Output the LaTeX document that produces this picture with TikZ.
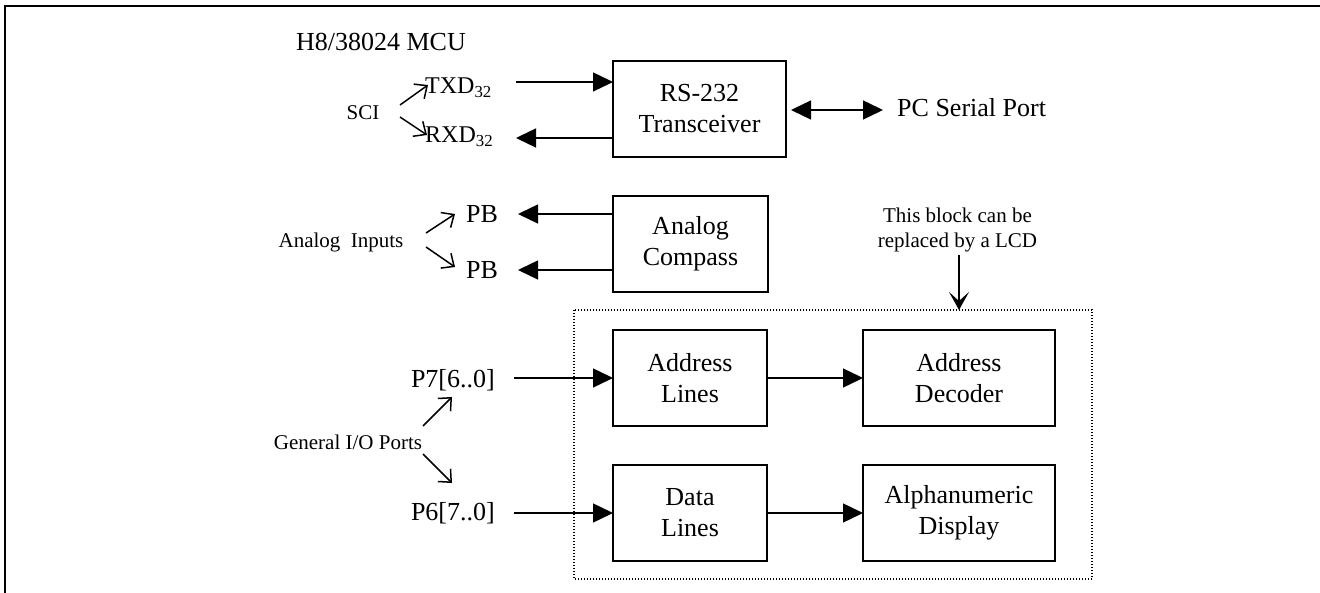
\documentclass[tikz,border=0pt]{standalone}
\usepackage{fontspec}
\setmainfont{Liberation Serif}
\usetikzlibrary{arrows.meta}
\newcommand\fbig{\fontsize{26}{31}\selectfont}
\newcommand\fmid{\fontsize{24}{28}\selectfont}
\newcommand\fsmall{\fontsize{21}{25}\selectfont}
\tikzset{
  blk/.style={draw, line width=1.3pt, inner sep=0pt, outer sep=0pt, align=center, font=\fbig},
  lbl/.style={inner sep=0pt, font=\fbig},
  slbl/.style={inner sep=0pt, font=\fsmall, align=center},
  arr/.style={line width=1.4pt, -{Triangle[length=20pt,width=19pt]}},
  biarr/.style={line width=1.4pt, {Triangle[length=20pt,width=19pt]}-{Triangle[length=20pt,width=19pt]}},
  sarr/.style={line width=1.5pt, -{Straight Barb[length=10pt,width=18pt,line width=1.5pt]}},
  notearr/.style={line width=1.5pt, -{Stealth[length=18pt,width=20pt,inset=9pt]}},
  frame/.style={line width=2pt},
  dotbox/.style={line width=1.1pt, dash pattern=on 1pt off 2pt}
}
\begin{document}
\begin{tikzpicture}[x=1pt,y=-1pt]
\useasboundingbox (0,0) rectangle (1320,593);
% outer frame (top and left)
\draw[frame] (1320,6) -- (5,6) -- (5,593);

% title
\node[lbl] (mcu) at (381,42) {H8/38024 MCU};

% SCI group
\node[slbl] (sci) at (363,113) {SCI};
\node[lbl, font=\fmid, anchor=west] (txd) at (425,88) {TXD\textsubscript{32}};
\node[lbl, font=\fmid, anchor=west] (rxd) at (425,137) {RXD\textsubscript{32}};
\coordinate (sciA1) at (400,105); \coordinate (sciA2) at (428,85);
\coordinate (sciB1) at (400,117); \coordinate (sciB2) at (427,135);
\draw[sarr] (sciA1) -- (sciA2);
\draw[sarr] (sciB1) -- (sciB2);

% RS-232
\node[blk, minimum width=173pt, minimum height=96pt] (rs) at (699.5,109) {RS-232\\Transceiver};
\coordinate (txdstart) at (516,82);
\coordinate (rxdend) at (516,138);
\draw[arr] (txdstart) -- (rs.west |- txdstart);
\draw[arr] (rs.west |- rxdend) -- (rxdend);
\coordinate (pcend) at (883,110);
\draw[biarr, shorten <=5pt] (rs.east |- pcend) -- (pcend);
\node[lbl, anchor=west] (pc) at (897,108) {PC Serial Port};

% Analog compass
\node[blk, minimum width=155pt, minimum height=96pt] (comp) at (690.5,244) {Analog\\Compass};
\node[lbl] (pb1) at (482,214) {PB};
\node[lbl] (pb2) at (482,270) {PB};
\coordinate (pb1end) at (518,214);
\coordinate (pb2end) at (518,270);
\draw[arr] (comp.west |- pb1end) -- (pb1end);
\draw[arr] (comp.west |- pb2end) -- (pb2end);
\node[slbl] (ain) at (341,242) {Analog\enspace Inputs};
\coordinate (ainA1) at (426,233); \coordinate (ainA2) at (455,214);
\coordinate (ainB1) at (426,247); \coordinate (ainB2) at (455,267);
\draw[sarr] (ainA1) -- (ainA2);
\draw[sarr] (ainB1) -- (ainB2);

% LCD block
\draw[dotbox] (574,310) rectangle (1092,579);
\coordinate (dottop) at (959,310);
\node[slbl] (note) at (957.5,230) {This block can be\\replaced by a LCD};
\coordinate (notestart) at (959,255);
\draw[notearr] (notestart) -- (dottop);

\node[blk, minimum width=154pt, minimum height=96pt] (addr) at (690,378) {Address\\Lines};
\node[blk, minimum width=154pt, minimum height=96pt] (data) at (690,513) {Data\\Lines};
\node[blk, minimum width=192pt, minimum height=96pt] (dec) at (959,378) {Address\\Decoder};
\node[blk, minimum width=192pt, minimum height=96pt] (disp) at (959,513) {Alphanumeric\\Display};
\draw[arr] (addr) -- (dec);
\draw[arr] (data) -- (disp);

% ports
\node[lbl, anchor=east] (p7) at (495,380) {P7[6..0]};
\node[lbl, anchor=east] (p6) at (495,513) {P6[7..0]};
\coordinate (p7start) at (514,378);
\coordinate (p6start) at (514,513);
\draw[arr] (p7start) -- (addr.west |- p7start);
\draw[arr] (p6start) -- (data.west |- p6start);
\node[slbl] (gio) at (348,442) {General I/O Ports};
\coordinate (gioA1) at (423,426); \coordinate (gioA2) at (452,397);
\coordinate (gioB1) at (423,454); \coordinate (gioB2) at (452,483);
\draw[sarr] (gioA1) -- (gioA2);
\draw[sarr] (gioB1) -- (gioB2);
\end{tikzpicture}
\end{document}
